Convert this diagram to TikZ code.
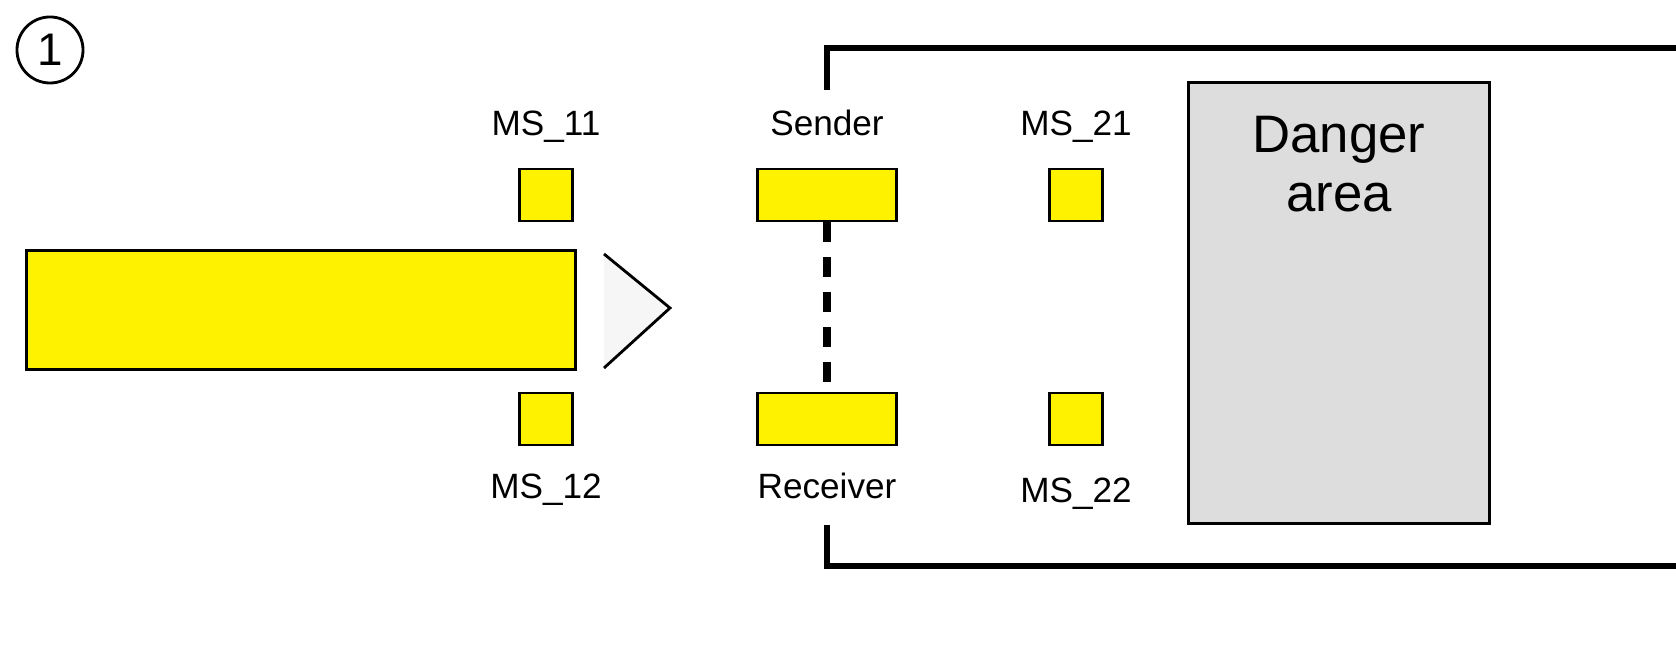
\documentclass[tikz,border=0pt]{standalone}
\usepackage{fontspec}
\setmainfont{Liberation Sans}
\usetikzlibrary{positioning}
\begin{document}
\begin{tikzpicture}[x=0.01cm, y=-0.01cm, font=\fontsize{10}{12}\selectfont]
      % Define the styles
      \tikzset{sensor/.style={draw, thick, fill=yellow, inner sep=0pt, minimum width=0.53cm, minimum height=0.52cm}}
      \tikzset{beam/.style={draw, thick, fill=yellow, inner sep=0pt, minimum width=1.39cm, minimum height=0.52cm}}
      \tikzset{tag/.style={text height=1.6ex, text depth=0.5ex, inner sep=0pt}}
      \tikzset{fence/.style={line width=1.7pt}}
      \useasboundingbox (0,0) rectangle (1676,668);

      % Marker
      \node[draw, thick, circle, minimum size=0.66cm, inner sep=0pt, font=\fontsize{13}{15}\selectfont] (num) at (50,50) {1};

      % Vehicle
      \node[draw, thick, fill=yellow, minimum width=5.48cm, minimum height=1.19cm, inner sep=0pt] (car) at (301,310) {};
      \coordinate (t1) at (604,254);
      \coordinate (t2) at (670,308);
      \coordinate (t3) at (604,368);
      \fill[gray!7] (t1) -- (t2) -- (t3) -- cycle;
      \draw[thick] (t1) -- (t2) -- (t3);

      % Sensors
      \node[sensor] (ms11) at (546,195) {};
      \node[sensor] (ms12) at (546,419) {};
      \node[sensor] (ms21) at (1076,195) {};
      \node[sensor] (ms22) at (1076,419) {};
      \node[beam] (sender) at (827,195) {};
      \node[beam] (receiver) at (827,419) {};
      \node[tag, above=0.22cm of ms11] {MS\_11};
      \node[tag, below=0.22cm of ms12] {MS\_12};
      \node[tag, above=0.22cm of ms21] {MS\_21};
      \node[tag, below=0.26cm of ms22] {MS\_22};
      \node[tag, above=0.22cm of sender] {Sender};
      \node[tag, below=0.22cm of receiver] {Receiver};
      \draw[line width=2pt, dash pattern=on 0.2cm off 0.15cm] (sender.south) -- (receiver.north);

      % Danger area
      \node[draw, thick, fill=gray!27, minimum width=3.01cm, minimum height=4.4cm, inner sep=0pt] (danger) at (1339,303) {};
      \node[align=center, font=\fontsize{15}{17}\selectfont, below=0.22cm of danger.north] {Danger\\area};

      % Fence
      \coordinate (f1) at (827,90);
      \coordinate (f2) at (827,525);
      \draw[fence] (f1) -- (827,48) -- (1676,48);
      \draw[fence] (f2) -- (827,566) -- (1676,566);
\end{tikzpicture}
\end{document}
